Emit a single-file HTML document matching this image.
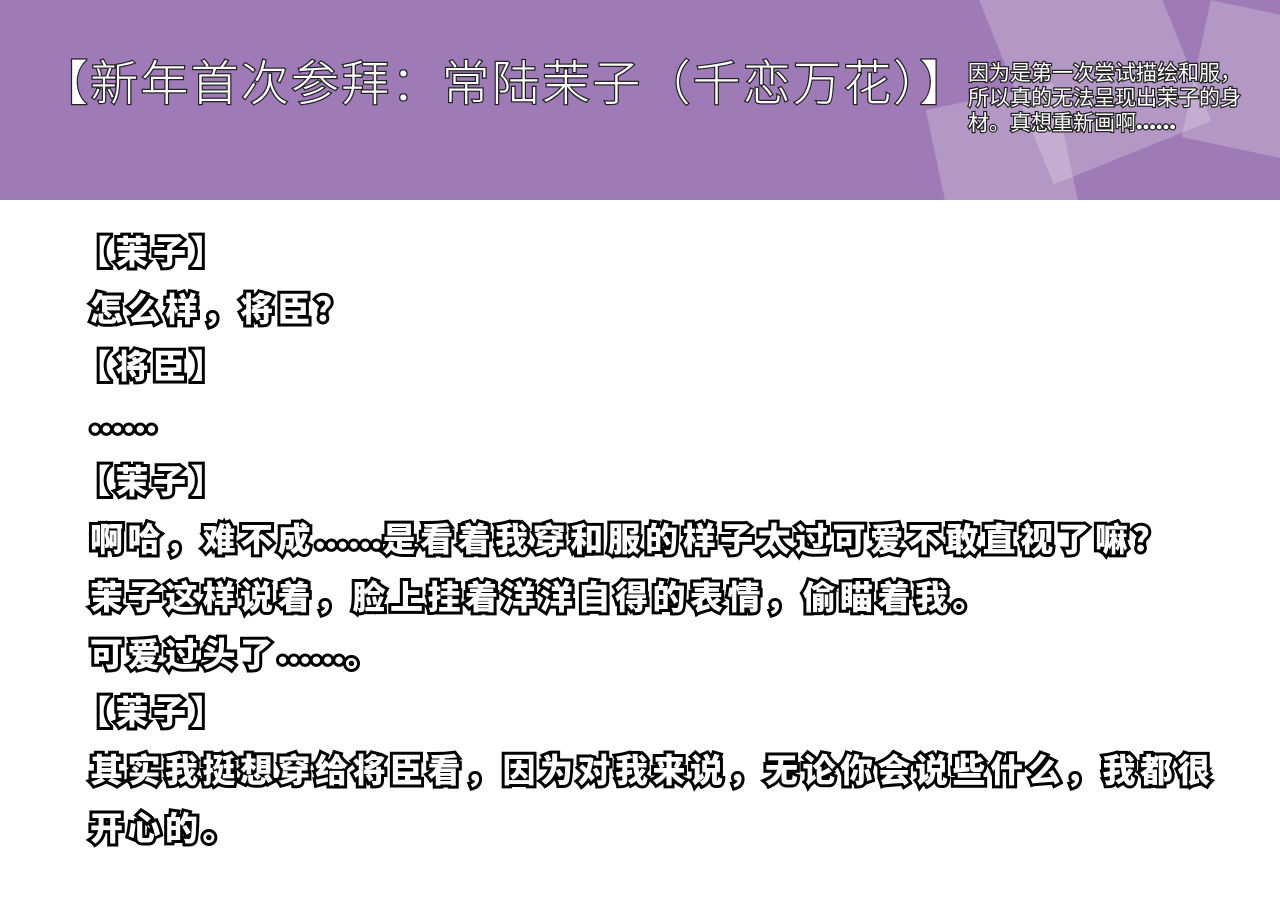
<!DOCTYPE html>
<html><head><meta charset="utf-8"><style>
body{margin:0;width:1280px;height:907px;background:#fff;overflow:hidden;position:relative;font-family:"Liberation Sans","Noto Sans CJK SC",sans-serif}
.hd{position:absolute;left:0;top:0;width:1280px;height:200px;background:#9e7bb6;overflow:hidden}
.hd .r{position:absolute;background:rgba(255,255,255,0.22)}
.t{position:absolute;left:40px;top:44px;font-size:48px;font-weight:300;color:#fff;-webkit-text-stroke:2.5px #222;paint-order:stroke fill;white-space:nowrap;letter-spacing:2.2px}
.s{position:absolute;left:968px;top:61px;font-size:21px;line-height:25px;color:#fff;-webkit-text-stroke:2.5px #222;paint-order:stroke fill;white-space:nowrap}
.b{position:absolute;left:90px;font-size:33px;font-weight:900;color:#fff;-webkit-text-stroke:6px #000;paint-order:stroke fill;white-space:nowrap;letter-spacing:4.5px;line-height:40px}
.k{margin-left:-12px}
.d{font-size:17px;letter-spacing:1px;vertical-align:middle;position:relative;top:3px}
</style></head><body>
<div class="hd">
<div class="r" style="left:1010px;top:-40px;width:170px;height:200px;transform:rotate(-22deg)"></div>
<div class="r" style="left:940px;top:95px;width:130px;height:150px;transform:rotate(-12deg)"></div>
<div class="r" style="left:1195px;top:10px;width:110px;height:140px;transform:rotate(12deg)"></div>
<div class="t">【新年首次参拜：常陆茉子（千恋万花）】</div>
<div class="s">因为是第一次尝试描绘和服，<br>所以真的无法呈现出茉子的身<br>材。真想重新画啊<span style="font-size:11px">●●●●●●</span></div>
</div>
<div class="b" style="top:233px"><span class="k"></span>【茉子】</div>
<div class="b" style="top:290px">怎么样，将臣？</div>
<div class="b" style="top:347px"><span class="k"></span>【将臣】</div>
<div class="b" style="top:404px"><span class="d">●●●●●●</span></div>
<div class="b" style="top:462px"><span class="k"></span>【茉子】</div>
<div class="b" style="top:520px">啊哈，难不成<span class="d">●●●●●●</span>是看着我穿和服的样子太过可爱不敢直视了嘛？</div>
<div class="b" style="top:578px">茉子这样说着，脸上挂着洋洋自得的表情，偷瞄着我。</div>
<div class="b" style="top:635px">可爱过头了<span class="d">●●●●●●</span>。</div>
<div class="b" style="top:693px"><span class="k"></span>【茉子】</div>
<div class="b" style="top:751px">其实我挺想穿给将臣看，因为对我来说，无论你会说些什么，我都很</div>
<div class="b" style="top:809px">开心的。</div>
</body></html>
